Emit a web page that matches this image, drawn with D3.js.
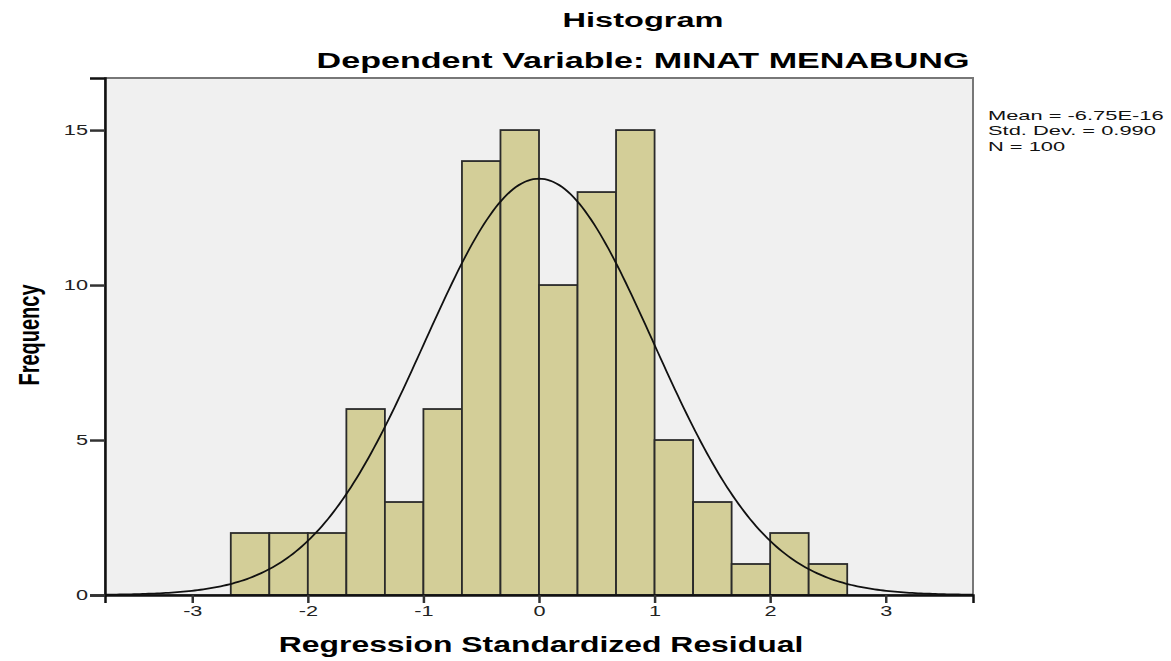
<!DOCTYPE html>
<html>
<head>
<meta charset="utf-8">
<script src="https://cdn.jsdelivr.net/npm/d3@7"></script>
<style>
  body { margin: 0; background: #fff; }
  text { font-family: "Liberation Sans", Arial, sans-serif; }
</style>
</head>
<body>
<div id="chart-div"></div>
<script>
// histogram bins of the regression standardized residual (width 1/3)
const binStarts = [-8, -7, -6, -5, -4, -3, -2, -1, 0, 1, 2, 3, 4, 5, 6, 7].map(k => k / 3)
const binWidth = 1 / 3
const counts = [2, 2, 2, 6, 3, 6, 14, 15, 10, 13, 15, 5, 3, 1, 2, 1]
const xTicks = [-3, -2, -1, 0, 1, 2, 3]
const yTicks = [0, 5, 10, 15]
const stats = ['Mean = -6.75E-16', 'Std. Dev. = 0.990', 'N = 100']
const mean = -6.75e-16
const sd = 0.990
const n = 100

const width = 1171
const height = 661
const margin = { top: 78, right: 198, bottom: 66, left: 105 }
const innerWidth = width - margin.left - margin.right
const innerHeight = height - margin.top - margin.bottom

// the original picture is stretched sideways, so text gets a horizontal scale
const stretch = 1.55

const svg = d3.select('#chart-div').append('svg')
    .attr('width', width)
    .attr('height', height)

const xScale = d3.scaleLinear().domain([-3.755, 3.755]).range([0, innerWidth])
const yScale = d3.scaleLinear().domain([0, 16.68]).range([innerHeight, 0])

const g = svg.append('g')
    .attr('transform', `translate(${margin.left},${margin.top})`)

// plot background
g.append('rect')
    .attr('width', innerWidth)
    .attr('height', innerHeight)
    .attr('fill', '#f0f0f0')
    .attr('stroke', '#777')
    .attr('stroke-width', 2)

// bars
g.selectAll('rect.bar').data(counts)
  .enter().append('rect')
    .attr('class', 'bar')
    .attr('x', (d, i) => xScale(binStarts[i]))
    .attr('y', d => yScale(d))
    .attr('width', (d, i) => xScale(binStarts[i] + binWidth) - xScale(binStarts[i]))
    .attr('height', d => yScale(0) - yScale(d))
    .attr('fill', '#d3ce98')
    .attr('stroke', '#2a2a2a')
    .attr('stroke-width', 1.8)

// normal curve
const pdf = x => n * binWidth * Math.exp(-0.5 * ((x - mean) / sd) ** 2) / (sd * Math.sqrt(2 * Math.PI))
const curvePts = d3.range(0, 301).map(i => -3.755 + i * 7.51 / 300)
g.append('path')
    .datum(curvePts)
    .attr('fill', 'none')
    .attr('stroke', '#111')
    .attr('stroke-width', 1.8)
    .attr('d', d3.line().x(d => xScale(d)).y(d => yScale(pdf(d))))

// axes
const xAxis = d3.axisBottom(xScale).tickValues(xTicks).tickSize(8).tickPadding(3)
    .tickFormat(d3.format('d'))
const yAxis = d3.axisLeft(yScale).tickValues(yTicks).tickSize(15).tickPadding(2)

const xAxisG = g.append('g').attr('transform', `translate(0,${innerHeight})`).call(xAxis)
const yAxisG = g.append('g').call(yAxis)

xAxisG.select('.domain').attr('stroke', '#111').attr('stroke-width', 2.5)
yAxisG.select('.domain').attr('stroke', '#111').attr('stroke-width', 2.5)
xAxisG.selectAll('.tick line').attr('stroke', '#333').attr('stroke-width', 2.5)
yAxisG.selectAll('.tick line').attr('stroke', '#333').attr('stroke-width', 2.5)
xAxisG.selectAll('.tick text')
    .attr('font-size', 14).attr('fill', '#222')
    .attr('font-family', '"Liberation Sans", Arial, sans-serif')
    .attr('transform', `scale(${stretch},1)`)
    .text(d => d < 0 ? '-' + Math.abs(d) : d)
yAxisG.selectAll('.tick text')
    .attr('font-size', 14).attr('fill', '#222')
    .attr('font-family', '"Liberation Sans", Arial, sans-serif')
    .attr('x', null)
    .attr('transform', `translate(-17,0) scale(${stretch},1)`)

// titles
svg.append('text')
    .attr('transform', `translate(643,27) scale(${stretch},1)`)
    .attr('text-anchor', 'middle')
    .attr('font-size', 21).attr('font-weight', 'bold')
    .text('Histogram')

svg.append('text')
    .attr('transform', `translate(643,68) scale(${stretch},1)`)
    .attr('text-anchor', 'middle')
    .attr('font-size', 22).attr('font-weight', 'bold')
    .text('Dependent Variable: MINAT MENABUNG')

svg.append('text')
    .attr('transform', `translate(${margin.left + xScale(0) + 2},652) scale(1.45,1)`)
    .attr('text-anchor', 'middle')
    .attr('font-size', 22).attr('font-weight', 'bold')
    .text('Regression Standardized Residual')

svg.append('text')
    .attr('transform', `translate(39,335) rotate(-90) scale(1,1.5)`)
    .attr('text-anchor', 'middle')
    .attr('font-size', 20).attr('font-weight', 'bold')
    .text('Frequency')

// stats legend
svg.append('g').selectAll('text').data(stats)
  .enter().append('text')
    .attr('transform', (d, i) => `translate(988,${119.5 + i * 15.5}) scale(1.75,1)`)
    .attr('font-size', 12.5)
    .attr('fill', '#111')
    .text(d => d)
</script>
</body>
</html>
